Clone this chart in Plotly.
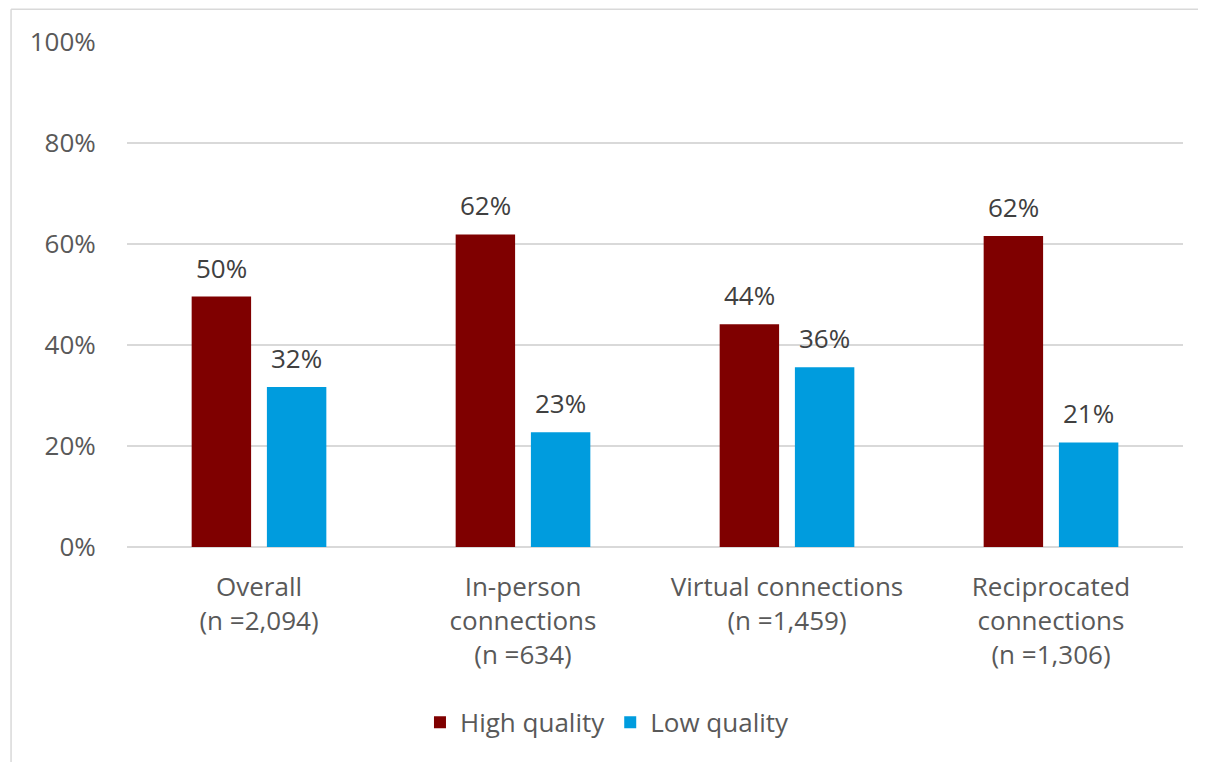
import plotly.graph_objects as go

categories = ["Overall<br>(n =2,094)", "In-person<br>connections<br>(n =634)",
              "Virtual connections<br>(n =1,459)", "Reciprocated<br>connections<br>(n =1,306)"]
high_quality = [0.496, 0.619, 0.441, 0.616]
low_quality = [0.317, 0.227, 0.356, 0.207]
y_ticks = [0, 0.2, 0.4, 0.6, 0.8, 1.0]

FONT = "Open Sans"
RED = "#7F0000"
BLUE = "#009CDE"
FS = 26

fig = go.Figure()
fig.add_trace(go.Bar(name="High quality", x=categories, y=high_quality,
                     marker=dict(color=RED, line=dict(width=0))))
fig.add_trace(go.Bar(name="Low quality", x=categories, y=low_quality,
                     marker=dict(color=BLUE, line=dict(width=0))))

off = 0.142
for i, (h, l) in enumerate(zip(high_quality, low_quality)):
    for dx, v in ((-off, h), (off, l)):
        fig.add_annotation(x=i + dx, y=v, xref="x", yref="y", text=f"{v*100:.0f}%",
                           showarrow=False, yanchor="bottom", yshift=9,
                           font=dict(family=FONT, size=FS, color="#404040"))

# chart-area border (only left and top edges are visible in the frame)
fig.add_shape(type="line", xref="paper", yref="paper",
              x0=-0.1098, x1=-0.1098, y0=-0.6, y1=1.0648,
              line=dict(color="#D9D9D9", width=1.5), layer="below")
fig.add_shape(type="line", xref="paper", yref="paper",
              x0=-0.1098, x1=1.2, y0=1.0648, y1=1.0648,
              line=dict(color="#D9D9D9", width=1.5), layer="below")

fig.update_layout(
    width=1198, height=754,
    margin=dict(l=119, r=23, t=34, b=215),
    paper_bgcolor="white", plot_bgcolor="white",
    barmode="group", bargap=0.43, bargroupgap=0.21,
    font=dict(family=FONT, size=FS, color="#595959"),
    legend=dict(orientation="h", x=0.455, xanchor="center", y=-0.347, yanchor="middle",
                font=dict(family=FONT, size=FS, color="#595959"), itemwidth=30,
                traceorder="normal"),
    showlegend=True,
)
fig.update_xaxes(showgrid=False, showline=False, zeroline=False,
                 ticks="outside", ticklen=17, tickcolor="rgba(0,0,0,0)",
                 tickfont=dict(family=FONT, size=FS, color="#595959"))
fig.update_yaxes(range=[0, 1], tickvals=y_ticks, tickformat=".0%",
                 showgrid=True, gridcolor="#D9D9D9", gridwidth=1.5,
                 zeroline=True, zerolinecolor="#D9D9D9", zerolinewidth=1.5,
                 showline=False, ticks="outside", ticklen=25, tickcolor="rgba(0,0,0,0)",
                 tickfont=dict(family=FONT, size=FS, color="#595959"))

fig.write_html("out.html")
